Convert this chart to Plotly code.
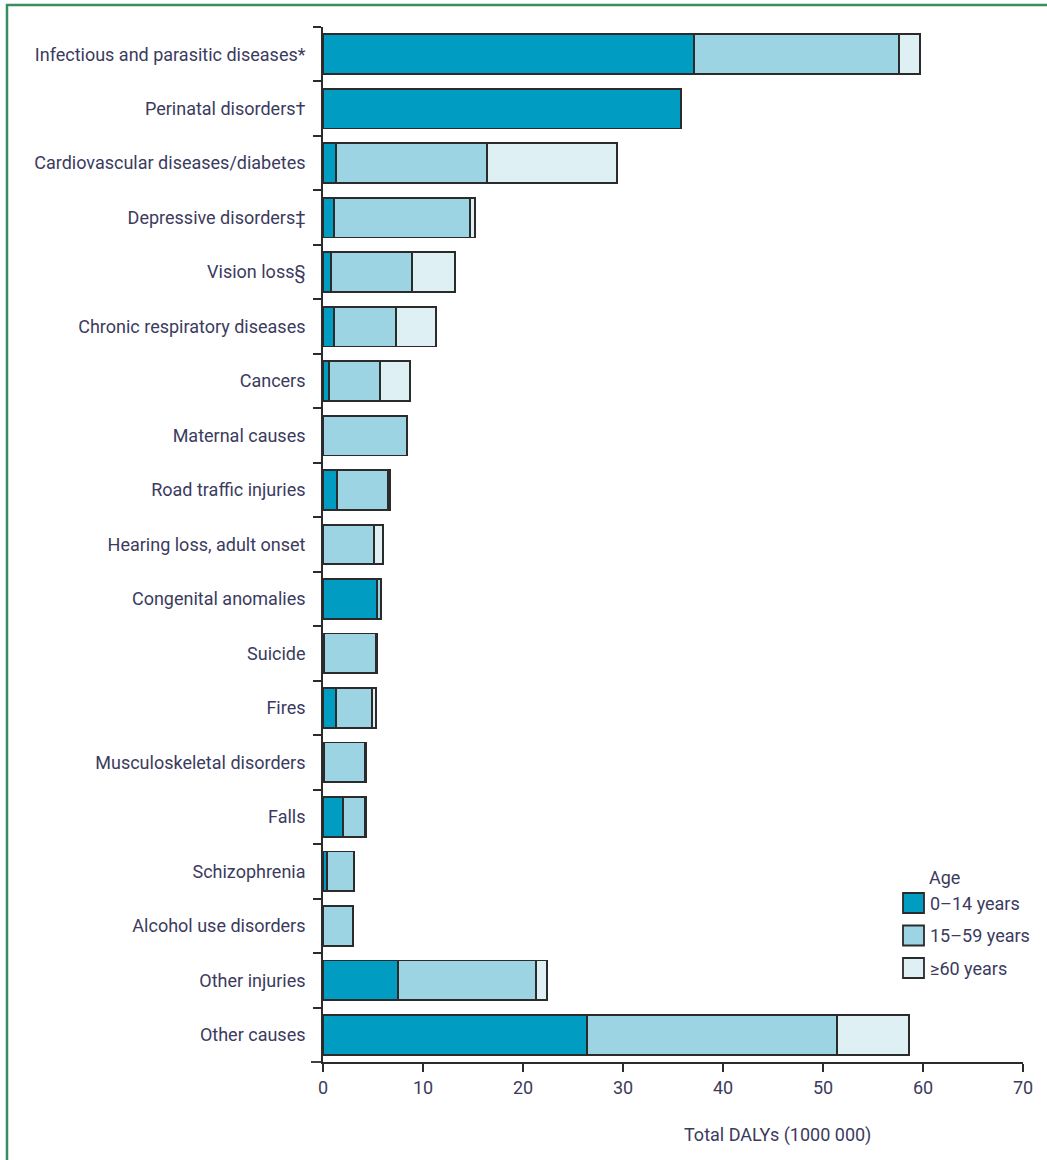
import plotly.graph_objects as go

# Disease and injury categories, top to bottom
causes = [
    "Infectious and parasitic diseases*",
    "Perinatal disorders†",
    "Cardiovascular diseases/diabetes",
    "Depressive disorders‡",
    "Vision loss§",
    "Chronic respiratory diseases",
    "Cancers",
    "Maternal causes",
    "Road traffic injuries",
    "Hearing loss, adult onset",
    "Congenital anomalies",
    "Suicide",
    "Fires",
    "Musculoskeletal disorders",
    "Falls",
    "Schizophrenia",
    "Alcohol use disorders",
    "Other injuries",
    "Other causes",
]

# DALYs (millions) by age group
age_0_14 = [37.1, 35.8, 1.3, 1.1, 0.8, 1.1, 0.6, 0.0, 1.4, 0.0, 5.4, 0.1, 1.3, 0.1, 2.0, 0.4, 0.0, 7.5, 26.4]
age_15_59 = [20.5, 0.0, 15.1, 13.6, 8.1, 6.2, 5.1, 8.4, 5.1, 5.1, 0.4, 5.2, 3.6, 4.1, 2.2, 2.7, 3.0, 13.8, 25.0]
age_60_plus = [2.1, 0.0, 13.0, 0.5, 4.3, 4.0, 3.0, 0.0, 0.2, 0.9, 0.0, 0.1, 0.4, 0.1, 0.15, 0.0, 0.0, 1.1, 7.2]

group_names = ["0–14 years", "15–59 years", "≥60 years"]
group_colors = ["#009cc1", "#9dd4e4", "#dff0f5"]
x_ticks = [0, 10, 20, 30, 40, 50, 60, 70]

TEXT = "#3b3b5e"
EDGE = "#2b2b2b"
FONT = "Roboto, sans-serif"

W, H = 1047, 1160
ML, MR, MT, MB = 323, 24, 27, 98
PW, PH = W - ML - MR, H - MT - MB


def px_x(p):
    return (p - ML) / PW


def px_y(p):
    return (H - MB - p) / PH


fig = go.Figure()
for name, vals, col in zip(group_names, [age_0_14, age_15_59, age_60_plus], group_colors):
    fig.add_trace(go.Bar(
        y=causes, x=vals, name=name, orientation="h",
        marker=dict(color=col, line=dict(color=EDGE, width=1.8)),
    ))

# Legend drawn as swatches + labels in the lower right corner
legend_shapes, legend_notes = [], []
legend_notes.append(dict(text="Age", xref="paper", yref="paper",
                         x=px_x(927), y=px_y(877), xanchor="left", yanchor="middle",
                         showarrow=False, font=dict(family=FONT, size=18, color=TEXT)))
for i, (name, col) in enumerate(zip(group_names, group_colors)):
    cy = 903 + i * 32.5
    legend_shapes.append(dict(type="rect", xref="paper", yref="paper",
                              x0=px_x(903), x1=px_x(924), y0=px_y(cy + 10), y1=px_y(cy - 10),
                              fillcolor=col, line=dict(color=EDGE, width=1.8)))
    legend_notes.append(dict(text=name, xref="paper", yref="paper",
                             x=px_x(928), y=px_y(cy), xanchor="left", yanchor="middle",
                             showarrow=False, font=dict(family=FONT, size=18, color=TEXT)))

fig.update_layout(
    width=W, height=H,
    margin=dict(l=ML, r=MR, t=MT, b=MB),
    barmode="stack", bargap=0.27,
    plot_bgcolor="white", paper_bgcolor="white",
    font=dict(family=FONT, size=18, color=TEXT),
    showlegend=False,
    xaxis=dict(
        range=[0, 70], tickvals=x_ticks, showgrid=False, zeroline=False,
        showline=True, linecolor=EDGE, linewidth=1.8,
        ticks="outside", ticklen=8, tickcolor=EDGE, tickwidth=1.8,
        tickfont=dict(family=FONT, size=18, color=TEXT),
    ),
    yaxis=dict(
        categoryorder="array", categoryarray=causes, autorange="reversed",
        showgrid=False, zeroline=False,
        showline=True, linecolor=EDGE, linewidth=1.8,
        ticks="outside", tickson="boundaries", ticklen=8,
        tickcolor=EDGE, tickwidth=1.8, ticklabelstandoff=12,
        tickfont=dict(family=FONT, size=18, color=TEXT),
    ),
    annotations=[
        dict(text="Total DALYs (1000 000)", xref="paper", yref="paper",
             x=px_x(777), y=px_y(1135), xanchor="center", yanchor="middle",
             showarrow=False, font=dict(family=FONT, size=18, color=TEXT)),
    ] + legend_notes,
    shapes=[
        # axis line stub to the left of zero
        dict(type="line", xref="paper", yref="paper",
             x0=px_x(311), x1=0, y0=0, y1=0,
             line=dict(color=EDGE, width=1.8)),
        # green frame
        dict(type="rect", xref="paper", yref="paper",
             x0=px_x(7), x1=px_x(1070), y0=px_y(1190), y1=px_y(5),
             line=dict(color="#3a8d5e", width=2.5), layer="below"),
    ] + legend_shapes,
)

fig.write_html("out.html")
